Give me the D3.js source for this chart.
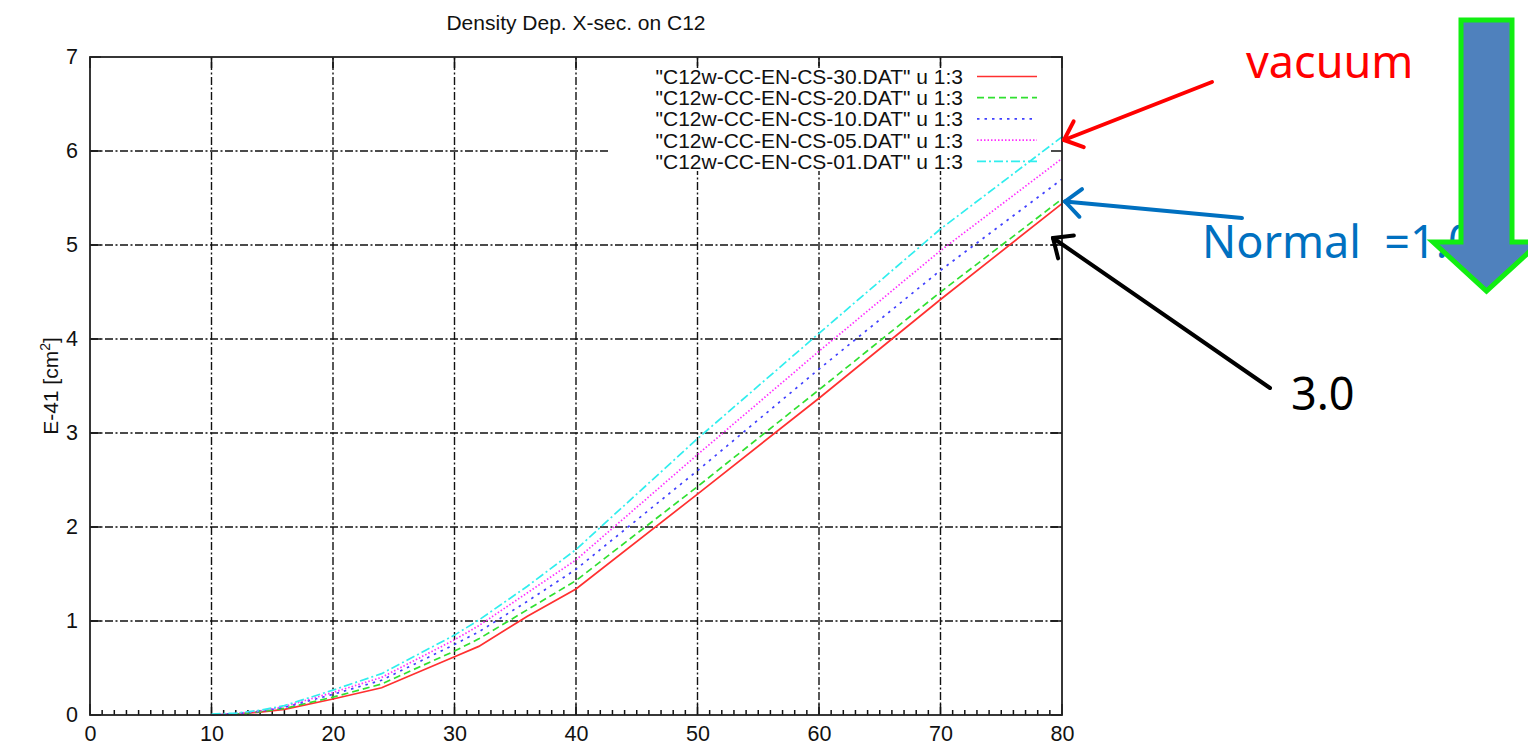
<!DOCTYPE html>
<html>
<head>
<meta charset="utf-8">
<script src="https://cdn.jsdelivr.net/npm/d3@7"></script>
<style>
  html, body { margin: 0; padding: 0; background: #fff; }
  svg { display: block; }
  .chart text { font-family: "Liberation Sans", Arial, sans-serif; fill: #111; }
  .note { font-family: "Noto Sans", "Open Sans", sans-serif; }
  .note text { white-space: pre; }
</style>
</head>
<body>
<script>
// Neutrino energy grid and cross sections (units of 1e-41 cm^2) for several densities
const energies = [10, 12, 14, 16, 20, 24, 30, 32, 36, 40, 50, 60, 70, 80];
const xsec30 = [0.00, 0.01, 0.03, 0.06, 0.17, 0.29, 0.62, 0.73, 1.05, 1.34, 2.35, 3.37, 4.42, 5.44];
const xsec20 = [0.00, 0.01, 0.035, 0.07, 0.19, 0.33, 0.68, 0.81, 1.12, 1.43, 2.43, 3.46, 4.50, 5.49];
const xsec10 = [0.00, 0.015, 0.04, 0.08, 0.22, 0.37, 0.75, 0.885, 1.21, 1.55, 2.60, 3.68, 4.73, 5.70];
const xsec05 = [0.00, 0.015, 0.045, 0.09, 0.24, 0.40, 0.80, 0.95, 1.30, 1.65, 2.77, 3.87, 4.94, 5.92];
const xsec01 = [0.01, 0.02, 0.05, 0.10, 0.265, 0.44, 0.85, 1.01, 1.37, 1.76, 2.94, 4.06, 5.17, 6.15];

const seriesLabels = [
  '"C12w-CC-EN-CS-30.DAT" u 1:3',
  '"C12w-CC-EN-CS-20.DAT" u 1:3',
  '"C12w-CC-EN-CS-10.DAT" u 1:3',
  '"C12w-CC-EN-CS-05.DAT" u 1:3',
  '"C12w-CC-EN-CS-01.DAT" u 1:3'
];
const seriesValues = [xsec30, xsec20, xsec10, xsec05, xsec01];
const seriesColors = ["#ff3030", "#30e030", "#4040ff", "#ff30ff", "#30eeee"];
const seriesDash = [null, "7,4", "2.5,5", "1.5,2", "9,3,2,3"];

const xTicks = [0, 10, 20, 30, 40, 50, 60, 70, 80];
const yTicks = [0, 1, 2, 3, 4, 5, 6, 7];
const xMinorTicks = d3.range(1, 80).filter(v => v % 10 !== 0);

const W = 1528, H = 750;
const svg = d3.select("body").append("svg").attr("width", W).attr("height", H);
const chart = svg.append("g").attr("class", "chart");

const x = d3.scaleLinear().domain([0, 80]).range([90, 1062]);
const y = d3.scaleLinear().domain([0, 7]).range([715, 57]);
const [x0, x1] = x.range();
const [y0, y1] = y.range();

// grid (dash-dot)
const gridDash = "8,2.5,2,2.5";
chart.append("g").selectAll("line").data(xTicks.slice(1, -1)).join("line")
  .attr("x1", d => x(d)).attr("x2", d => x(d)).attr("y1", y0).attr("y2", y1)
  .attr("stroke", "#111").attr("stroke-width", 1.4).attr("stroke-dasharray", gridDash);
chart.append("g").selectAll("line").data(yTicks.slice(1, -1)).join("line")
  .attr("x1", x0).attr("x2", x1).attr("y1", d => y(d)).attr("y2", d => y(d))
  .attr("stroke", "#111").attr("stroke-width", 1.4).attr("stroke-dasharray", gridDash);

// key box blanks the grid behind it
const keyBox = { left: 610, top: 66, bottom: 171 };
chart.append("rect")
  .attr("x", keyBox.left).attr("y", keyBox.top)
  .attr("width", x1 - keyBox.left).attr("height", keyBox.bottom - keyBox.top)
  .attr("fill", "#fff");

// major ticks on all four sides, minor ticks on the bottom
const tickLen = 11;
const ticks = chart.append("g").attr("stroke", "#111").attr("stroke-width", 1.5);
xTicks.forEach(v => {
  ticks.append("line").attr("x1", x(v)).attr("x2", x(v)).attr("y1", y0).attr("y2", y0 - tickLen);
  ticks.append("line").attr("x1", x(v)).attr("x2", x(v)).attr("y1", y1).attr("y2", y1 + tickLen);
});
yTicks.forEach(v => {
  ticks.append("line").attr("x1", x0).attr("x2", x0 + tickLen).attr("y1", y(v)).attr("y2", y(v));
  ticks.append("line").attr("x1", x1).attr("x2", x1 - tickLen).attr("y1", y(v)).attr("y2", y(v));
});
xMinorTicks.forEach(v => {
  ticks.append("line").attr("x1", x(v)).attr("x2", x(v)).attr("y1", y0).attr("y2", y0 - 5);
});

// axis labels via d3 axes
const xAxis = chart.append("g").attr("transform", `translate(0,${y0})`)
  .call(d3.axisBottom(x).tickValues(xTicks).tickSize(0).tickPadding(11).tickFormat(d3.format("d")));
const yAxis = chart.append("g").attr("transform", `translate(${x0},0)`)
  .call(d3.axisLeft(y).tickValues(yTicks).tickSize(0).tickPadding(12).tickFormat(d3.format("d")));
[xAxis, yAxis].forEach(a => {
  a.select(".domain").remove();
  a.selectAll("text").attr("font-size", 21.5).attr("font-family", '"Liberation Sans", Arial, sans-serif').attr("fill", "#111");
});

// curves
const line = d3.line().x(d => x(d[0])).y(d => y(d[1]));
seriesValues.forEach((vals, i) => {
  const pts = energies.map((e, k) => [e, vals[k]]);
  chart.append("path").datum(pts)
    .attr("d", line).attr("fill", "none")
    .attr("stroke", seriesColors[i]).attr("stroke-width", 1.7)
    .attr("stroke-dasharray", seriesDash[i]);
});

// border
chart.append("rect").attr("x", x0).attr("y", y1).attr("width", x1 - x0).attr("height", y0 - y1)
  .attr("fill", "none").attr("stroke", "#222").attr("stroke-width", 1.8);

// key entries
const key = chart.append("g");
seriesLabels.forEach((lab, i) => {
  const cy = 76.5 + i * 21.2;
  key.append("text").attr("x", 963).attr("y", cy + 7.5).attr("text-anchor", "end")
    .attr("font-size", 21).text(lab);
  key.append("line").attr("x1", 977).attr("x2", 1037).attr("y1", cy).attr("y2", cy)
    .attr("stroke", seriesColors[i]).attr("stroke-width", 1.7)
    .attr("stroke-dasharray", seriesDash[i]);
});

// title and y label
chart.append("text").attr("x", (x0 + x1) / 2).attr("y", 30).attr("text-anchor", "middle")
  .attr("font-size", 21).text("Density Dep. X-sec. on C12");
const yl = chart.append("text").attr("transform", `translate(58,${(y0 + y1) / 2}) rotate(-90)`)
  .attr("text-anchor", "middle").attr("font-size", 21);
yl.append("tspan").text("E-41 [cm");
yl.append("tspan").attr("font-size", 14).attr("dy", -8).text("2");
yl.append("tspan").attr("dy", 8).text("]");

// annotation arrows with open heads
function arrow(g, from, to, color, width) {
  g.append("line").attr("x1", from[0]).attr("y1", from[1]).attr("x2", to[0]).attr("y2", to[1])
    .attr("stroke", color).attr("stroke-width", width).attr("stroke-linecap", "round");
  const ang = Math.atan2(from[1] - to[1], from[0] - to[0]);
  const len = 21, spread = 0.72;
  [ang - spread, ang + spread].forEach(a => {
    g.append("line").attr("x1", to[0]).attr("y1", to[1])
      .attr("x2", to[0] + len * Math.cos(a)).attr("y2", to[1] + len * Math.sin(a))
      .attr("stroke", color).attr("stroke-width", width).attr("stroke-linecap", "round");
  });
}
const notes = svg.append("g").attr("class", "note");
notes.append("text").attr("x", 1246).attr("y", 78).attr("font-size", 45).attr("fill", "#ff0000").text("vacuum");
arrow(notes, [1212, 82], [1064, 140], "#ff0000", 4);
notes.append("text").attr("x", 1202).attr("y", 258).attr("font-size", 45).attr("fill", "#0070c0").text("Normal  =1.0");
arrow(notes, [1242, 218], [1065, 201.5], "#0070c0", 4);
notes.append("text").attr("x", 1291).attr("y", 410).attr("font-size", 45).attr("fill", "#000").text("3.0");
arrow(notes, [1270, 388], [1053, 238], "#000", 4);

// large block arrow pointing down
notes.append("path")
  .attr("d", "M1461,20 L1512,20 L1512,242 L1540,242 L1486.5,291 L1433,242 L1461,242 Z")
  .attr("fill", "#4f81bd").attr("stroke", "#11ee11").attr("stroke-width", 5)
  .attr("stroke-linejoin", "miter");
</script>
</body>
</html>
